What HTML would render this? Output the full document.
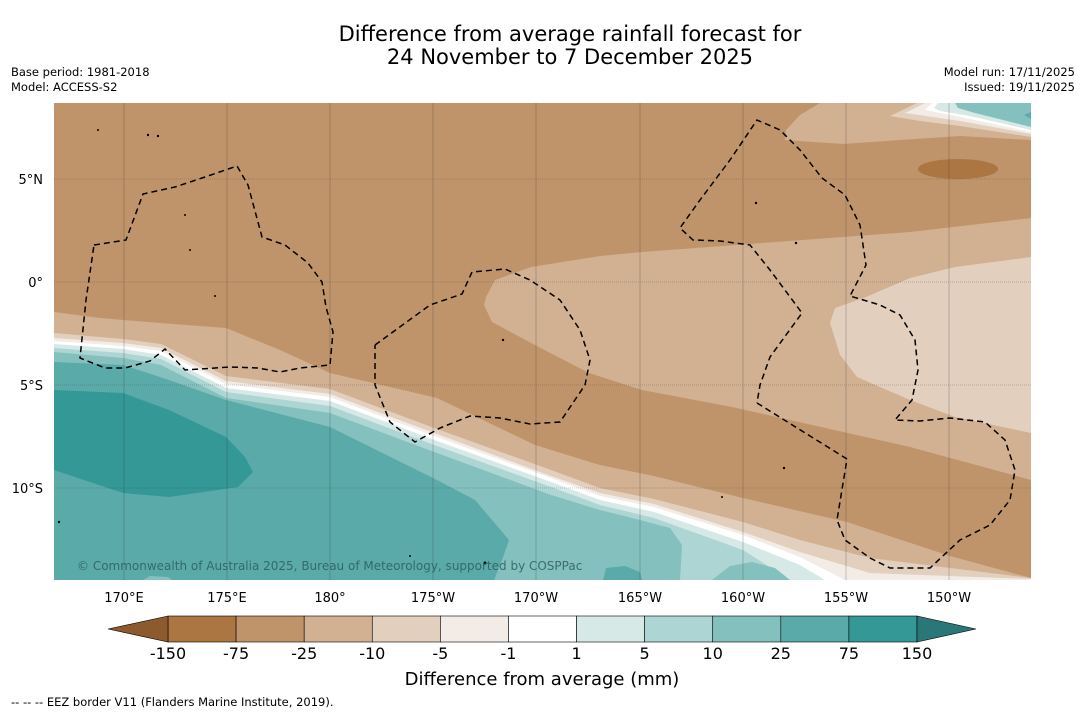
<!DOCTYPE html>
<html><head><meta charset="utf-8">
<style>
html,body{margin:0;padding:0;background:#fff;}
body{width:1085px;height:713px;overflow:hidden;position:relative;font-family:"Liberation Sans",sans-serif;}
svg text{font-family:"DejaVu Sans","Liberation Sans",sans-serif;}
</style></head>
<body>
<svg id="chart" width="1085" height="713" viewBox="0 0 1085 713" xmlns="http://www.w3.org/2000/svg">
<text x="570" y="41" font-size="21" text-anchor="middle" fill="#000">Difference from average rainfall forecast for</text>
<text x="570" y="64" font-size="21" text-anchor="middle" fill="#000">24 November to 7 December 2025</text>
<text x="11" y="76" font-size="11.5">Base period: 1981-2018</text>
<text x="11" y="91" font-size="11.5">Model: ACCESS-S2</text>
<text x="1075" y="76" font-size="11.5" text-anchor="end">Model run: 17/11/2025</text>
<text x="1075" y="91" font-size="11.5" text-anchor="end">Issued: 19/11/2025</text>

<defs><clipPath id="mapclip"><rect x="54" y="103" width="977" height="477"/></clipPath></defs>
<g clip-path="url(#mapclip)">
<rect x="54" y="103" width="977" height="477" fill="#c0946a"/>
<polygon fill="#d2b092" points="486,297 495,280 531,267 600,256 642,252 776,242 910,232 1031,218 1031,480 910,447 821,427 732,407 642,390 589,373 531,343 492,322 484,305"/>
<polygon fill="#e2cfbd" points="830,323 835,308 866,297 910,278 955,267 1031,257 1031,433 955,417 910,400 857,377 840,355"/>
<polygon fill="#d2b092" points="785,140 786,130 800,115 820,103 1031,103 1031,140 960,136 900,140 843,144"/>
<polygon fill="#e2cfbd" points="890,116 917,103 1031,103 1031,137 960,126 920,121"/>
<polygon fill="#f2ebe6" points="905,113 925,103 1031,103 1031,134 960,121"/>
<polygon fill="#ffffff" points="925,110 932,103 1031,103 1031,132 965,118"/>
<polygon fill="#d6e9e7" points="934,108 938,103 1031,103 1031,130 970,116 940,111"/>
<polygon fill="#84c0bd" points="955,103 1031,103 1031,127 975,113 958,108"/>
<polygon fill="#5aaaa9" points="1024,115 1031,112 1031,119"/>
<ellipse cx="958" cy="169" rx="40" ry="10" fill="#ab7641"/>
<polygon fill="#d2b092" points="54,312 100,318 160,323 226,328 280,350 330,373 437,398 535,445 600,465 654,476 743,498 847,522 950,556 1031,578 1031,580 54,580"/>
<polygon fill="#e2cfbd" points="54,333 123,339 161,344 226,376 330,389 437,429 551,470 600,488 654,499 743,522 800,540 870,558 950,568 1031,578 1031,580 54,580"/>
<polygon fill="#f2ebe6" points="54,338 123,343 161,348 226,381 330,394 437,434 551,476 600,493 654,504 743,532 800,552 870,573 950,576 1031,579 1031,580 54,580"/>
<polygon fill="#ffffff" points="54,341 123,346 161,351 226,384 330,397 437,437 551,478 600,496 654,507 743,535 800,557 845,580 54,580"/>
<polygon fill="#d6e9e7" points="54,344 123,349 161,355 226,388 330,401 437,441 551,482 600,500 654,512 743,542 800,565 825,580 54,580"/>
<polygon fill="#acd5d3" points="54,348 123,353 161,359 226,392 330,406 437,446 551,487 600,505 654,518 743,550 790,580 54,580"/>
<polygon fill="#84c0bd" points="54,352 123,358 161,365 226,398 330,413 437,453 551,495 600,510 640,520 670,528 682,545 680,580 54,580"/>
<polygon fill="#84c0bd" points="712,580 730,566 752,562 775,568 790,580"/>
<polygon fill="#5aaaa9" points="54,362 123,365 169,380 226,400 330,427 437,480 475,500 509,540 502,560 494,580 54,580"/>
<polygon fill="#5aaaa9" points="603,580 606,568 625,566 640,572 642,580"/>
<polygon fill="#84c0bd" points="143,580 150,576 168,577 172,580"/>
<polygon fill="#339896" points="54,390 123,393 169,410 226,437 245,457 253,472 238,487 169,497 123,493 54,470"/>

<g stroke="#333" stroke-width="0.5" opacity="0.5">
<line x1="124" y1="103" x2="124" y2="580"/><line x1="227" y1="103" x2="227" y2="580"/><line x1="330" y1="103" x2="330" y2="580"/><line x1="433" y1="103" x2="433" y2="580"/><line x1="536" y1="103" x2="536" y2="580"/><line x1="640" y1="103" x2="640" y2="580"/><line x1="743" y1="103" x2="743" y2="580"/><line x1="846" y1="103" x2="846" y2="580"/><line x1="949" y1="103" x2="949" y2="580"/>
<g stroke-dasharray="1,1"><line x1="54" y1="179" x2="1031" y2="179"/><line x1="54" y1="282" x2="1031" y2="282"/><line x1="54" y1="385" x2="1031" y2="385"/><line x1="54" y1="488" x2="1031" y2="488"/></g>
</g>

<g fill="none" stroke="#000" stroke-width="1.5" stroke-dasharray="6,4">
<polyline points="94,245 126,240 143,194 175,187 205,177 237,166 248,185 262,237 285,245 308,263 322,282 326,307 333,332 330,365 300,368 280,372 258,368 230,367 185,370 165,349 150,361 125,368 105,368 80,358 86,300 94,245"/>
<polyline points="375,345 430,305 462,294 472,272 505,269 530,280 560,300 580,330 590,360 585,385 560,422 530,424 500,418 470,416 440,428 415,442 390,422 375,385 375,345"/>
<polyline points="757,403 847,459 837,520 845,540 870,558 890,568 930,568 960,540 990,525 1010,500 1015,470 1005,440 985,422 950,418 920,421 895,420 912,400 918,370 915,340 900,315 880,305 850,296 866,265 860,225 845,195 822,178 800,150 780,130 757,120 730,160 700,200 680,228 693,240 720,241 750,245 770,270 802,313 770,357 760,385 757,403"/>
</g>
<g fill="#000">
<circle cx="148" cy="135" r="1.2"/><circle cx="158" cy="136" r="1.2"/><circle cx="98" cy="130" r="1"/><circle cx="185" cy="215" r="1"/><circle cx="190" cy="250" r="1"/><circle cx="215" cy="296" r="1"/><circle cx="503" cy="340" r="1.2"/><circle cx="756" cy="203" r="1.2"/><circle cx="796" cy="243" r="1.2"/><circle cx="784" cy="468" r="1.2"/><circle cx="722" cy="497" r="1"/><circle cx="59" cy="522" r="1.2"/><circle cx="485" cy="563" r="1.5"/><circle cx="410" cy="556" r="1"/>
</g>
<text x="77" y="570" font-size="12" fill="#2e5e5e" fill-opacity="0.85">© Commonwealth of Australia 2025, Bureau of Meteorology, supported by COSPPac</text>
</g>

<g font-size="13" text-anchor="end">
<text x="43" y="184">5°N</text><text x="43" y="287">0°</text><text x="43" y="390">5°S</text><text x="43" y="493">10°S</text>
</g>
<g font-size="13" text-anchor="middle">
<text x="124" y="602">170°E</text><text x="227" y="602">175°E</text><text x="330" y="602">180°</text><text x="433" y="602">175°W</text><text x="536" y="602">170°W</text><text x="640" y="602">165°W</text><text x="743" y="602">160°W</text><text x="846" y="602">155°W</text><text x="949" y="602">150°W</text>
</g>

<g id="colorbar"></g>
<text x="542" y="685" font-size="18" text-anchor="middle">Difference from average (mm)</text>
<text x="11" y="706" font-size="11.5">--  --  -- EEZ border V11 (Flanders Marine Institute, 2019).</text>
</svg>
<script>
const levelLabels = ["-150","-75","-25","-10","-5","-1","1","5","10","25","75","150"];
const binColors = ["#ab7641","#c0946a","#d2b092","#e2cfbd","#f2ebe6","#ffffff","#d6e9e7","#acd5d3","#84c0bd","#5aaaa9","#339896"];
const extendColors = ["#8c5a2c","#2a7777"];

const NS = "http://www.w3.org/2000/svg";
const cb = document.getElementById('colorbar');
const x0 = 168, x1 = 917, yTop = 616, yBot = 642, triL = 108, triR = 976;
const w = (x1 - x0) / binColors.length;
function xAt(i){ return x0 + i * w; }
binColors.forEach((c, i) => {
  const r = document.createElementNS(NS, 'rect');
  r.setAttribute('x', xAt(i)); r.setAttribute('y', yTop);
  r.setAttribute('width', w); r.setAttribute('height', yBot - yTop);
  r.setAttribute('fill', c); r.setAttribute('stroke', '#000'); r.setAttribute('stroke-width', '0.6');
  
  
  cb.appendChild(r);
});
const lt = document.createElementNS(NS, 'polygon');
lt.setAttribute('points', `${x0},${yTop} ${triL},${(yTop+yBot)/2} ${x0},${yBot}`);
lt.setAttribute('fill', extendColors[0]); lt.setAttribute('stroke', '#000'); lt.setAttribute('stroke-width', '0.6');


cb.appendChild(lt);
const rt = document.createElementNS(NS, 'polygon');
rt.setAttribute('points', `${x1},${yTop} ${triR},${(yTop+yBot)/2} ${x1},${yBot}`);
rt.setAttribute('fill', extendColors[1]); rt.setAttribute('stroke', '#000'); rt.setAttribute('stroke-width', '0.6');


cb.appendChild(rt);
levelLabels.forEach((l, i) => {
  const t = document.createElementNS(NS, 'text');
  t.setAttribute('x', xAt(i)); t.setAttribute('y', 659);
  t.setAttribute('font-size', '16'); t.setAttribute('text-anchor', 'middle');
  t.textContent = l;
  
  
  cb.appendChild(t);
});
</script>
</body></html>
